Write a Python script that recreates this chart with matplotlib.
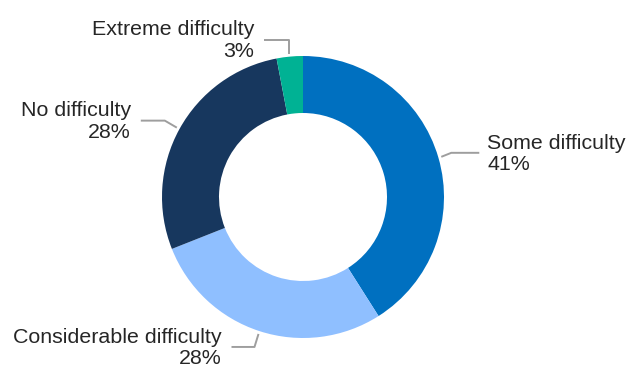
import numpy as np
import matplotlib
matplotlib.use("Agg")
import matplotlib.pyplot as plt

plt.rcParams['font.family'] = ['Liberation Sans', 'DejaVu Sans']

# Share of respondents by level of difficulty
categories = ['Some difficulty', 'Considerable difficulty', 'No difficulty', 'Extreme difficulty']
shares = [41, 28, 28, 3]
colors = ['#0070C0', '#8FBFFF', '#17375E', '#00B294']

W, H = 626, 365
fig = plt.figure(figsize=(W / 100, H / 100), dpi=100)
ax = fig.add_axes([0, 0, 1, 1])

cx, cy = 303, 168
R = 141
ring = 57
wedges, _ = ax.pie(shares, colors=colors, startangle=90, counterclock=False,
                   center=(cx, cy), radius=R, frame=True,
                   wedgeprops=dict(width=ring, linewidth=0))
ax.set_xlim(0, W)
ax.set_ylim(0, H)
ax.axis('off')

# leader line: (elbow dx, dy) from anchor, then horizontal run, text side
leaders = {
    'Some difficulty': ((10, 4), 28, 'left'),
    'Considerable difficulty': ((-4, -13), -23, 'right'),
    'No difficulty': ((-12, 7), -24, 'right'),
    'Extreme difficulty': ((0, 14), -25, 'right'),
}
line_col = '#9E9E9E'
text_col = '#262626'

for w, name, val in zip(wedges, categories, shares):
    mid = np.deg2rad((w.theta1 + w.theta2) / 2)
    ax0 = cx + (R + 3) * np.cos(mid)
    ay0 = cy + (R + 3) * np.sin(mid)
    (edx, edy), run, side = leaders[name]
    ex, ey = ax0 + edx, ay0 + edy
    fx = ex + run
    ax.plot([ax0, ex, fx], [ay0, ey, ey], color=line_col, lw=1.4,
            solid_capstyle='butt', clip_on=False)
    tx = fx + 8 if side == 'left' else fx - 10
    ax.text(tx, ey - 1, f'{name}\n{val}%', ha=side, va='center',
            multialignment=side, fontsize=15.4, color=text_col,
            linespacing=1.17)

fig.savefig('out.png', dpi=100)
